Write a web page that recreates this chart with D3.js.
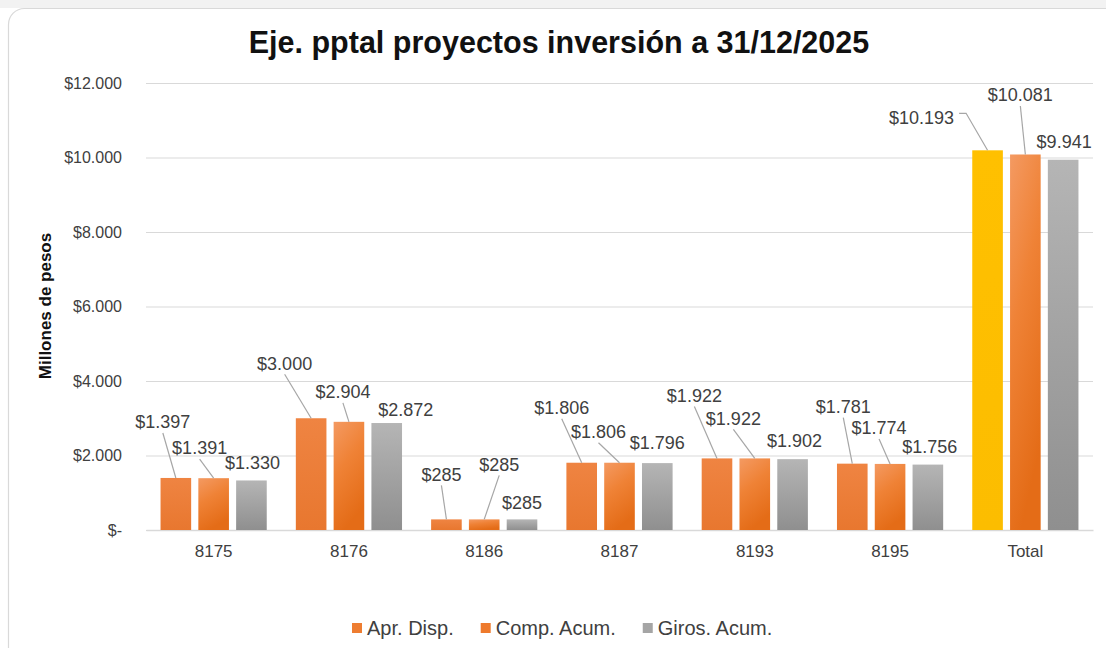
<!DOCTYPE html>
<html>
<head>
<meta charset="utf-8">
<script src="https://cdn.jsdelivr.net/npm/d3@7"></script>
<style>
  html, body { margin: 0; padding: 0; background: #ffffff; }
  svg { display: block; font-family: "Liberation Sans", Arial, sans-serif; }
</style>
</head>
<body>
<svg id="chart" width="1106" height="648"></svg>
<script>
// ---------------- DATA ----------------
const categories = ["8175", "8176", "8186", "8187", "8193", "8195", "Total"];
const seriesNames = ["Apr. Disp.", "Comp. Acum.", "Giros. Acum."];
const aprDisp   = [1397, 3000, 285, 1806, 1922, 1781, 10193];
const compAcum  = [1391, 2904, 285, 1806, 1922, 1774, 10081];
const girosAcum = [1330, 2872, 285, 1796, 1902, 1756, 9941];
const yTickValues = [0, 2000, 4000, 6000, 8000, 10000, 12000];
const titleText = "Eje. pptal proyectos inversión a 31/12/2025";
const yAxisTitle = "Millones de pesos";

// ---------------- LAYOUT (label offsets from bar top centre: dx, dy, leader type) ----------------
const labelOffsetsApr   = [[-13,-56,1],[-26.5,-55,1],[-5,-45,1],[-20,-55,1],[-22.6,-63,1],[-9,-57,1],[-66,-33,2]];
const labelOffsetsComp  = [[-14,-30,1],[-6,-30,1],[15,-55,1],[-21,-31,1],[-21.4,-40,1],[-11,-36,1],[-5,-59.5,1]];
const labelOffsetsGiros = [[1,-17.5,0],[19,-13,0],[0,-17,0],[0,-20,0],[2,-18,0],[2,-17.6,0],[1,-17.7,0]];

const seriesValues = [aprDisp, compAcum, girosAcum];
const seriesOffsets = [labelOffsetsApr, labelOffsetsComp, labelOffsetsGiros];

const fmt = v => v === 0 ? "$-" : "$" + d3.format(",")(v).replace(/,/g, ".");

const svg = d3.select("#chart");
const W = 1106, H = 648;

// background + frame
svg.append("rect").attr("x", 0).attr("y", 0).attr("width", W).attr("height", 8).attr("fill", "#f2f2f2");
svg.append("rect").attr("x", 8.5).attr("y", 8.5).attr("width", 1130).attr("height", 680)
  .attr("rx", 16).attr("fill", "#ffffff").attr("stroke", "#d9d9d9").attr("stroke-width", 1.2);

// gradients
const defs = svg.append("defs");
function grad(id, stops, x2, y2) {
  const g = defs.append("linearGradient").attr("id", id)
    .attr("x1", 0).attr("y1", 0).attr("x2", x2).attr("y2", y2);
  stops.forEach(s => g.append("stop").attr("offset", s[0]).attr("stop-color", s[1]));
}
grad("gApr", [[0, "#ef8442"], [1, "#e8772f"]], 0, 1);
grad("gComp", [[0, "#f49a62"], [0.45, "#ef8236"], [1, "#e46c17"]], 0.35, 1);
grad("gGiros", [[0, "#b5b5b5"], [1, "#8f8f8f"]], 0, 1);
grad("gYel", [[0, "#ffc000"], [1, "#fcbd00"]], 0, 1);

const fills = [
  i => categories[i] === "Total" ? "url(#gYel)" : "url(#gApr)",
  i => "url(#gComp)",
  i => "url(#gGiros)"
];

// scales
const x0 = d3.scaleBand().domain(categories).range([146, 1093]).paddingInner(0.215).paddingOuter(0.1075);
const x1 = d3.scaleBand().domain(seriesNames).range([0, x0.bandwidth()]).paddingInner(0.19);
const y = d3.scaleLinear().domain([0, 12000]).range([530, 83]);

// y axis with gridlines
const yAxis = svg.append("g").attr("transform", "translate(146,0)")
  .call(d3.axisLeft(y).tickValues(yTickValues).tickFormat(fmt)
    .tickSizeInner(-(1093 - 146)).tickSizeOuter(0).tickPadding(24));
yAxis.select(".domain").remove();
yAxis.selectAll(".tick line").attr("stroke", "#d9d9d9").attr("stroke-width", 1.2);
yAxis.selectAll(".tick text").attr("fill", "#404040").attr("font-size", "16px")
  .attr("font-family", "'Liberation Sans', Arial, sans-serif");

// x axis
const xAxis = svg.append("g").attr("transform", "translate(0,530)")
  .call(d3.axisBottom(x0).tickSize(0).tickPadding(14.5));
xAxis.select(".domain").attr("stroke", "#d9d9d9").attr("stroke-width", 1.4);
xAxis.selectAll(".tick text").attr("fill", "#404040").attr("font-size", "17px")
  .attr("font-family", "'Liberation Sans', Arial, sans-serif");

// bars
seriesNames.forEach((s, si) => {
  svg.append("g").selectAll("rect")
    .data(seriesValues[si])
    .join("rect")
    .attr("x", (d, i) => x0(categories[i]) + x1(s))
    .attr("y", d => y(d))
    .attr("width", x1.bandwidth())
    .attr("height", d => y(0) - y(d))
    .attr("fill", (d, i) => fills[si](i));
});

// data labels + leader lines
const labelG = svg.append("g");
const leaderG = svg.append("g");
seriesNames.forEach((s, si) => {
  seriesValues[si].forEach((v, i) => {
    const cx = x0(categories[i]) + x1(s) + x1.bandwidth() / 2;
    const top = y(v);
    const [dx, dy, lt] = seriesOffsets[si][i];
    const lx = cx + dx, ly = top + dy;
    const t = labelG.append("text")
      .attr("x", lx).attr("y", ly).attr("dy", "0.35em")
      .attr("text-anchor", "middle")
      .attr("font-size", "18px").attr("fill", "#404040")
      .text(fmt(v));
    if (lt === 1) {
      leaderG.append("line")
        .attr("x1", lx).attr("y1", ly + 11)
        .attr("x2", cx).attr("y2", top)
        .attr("stroke", "#a6a6a6").attr("stroke-width", 1.2);
    } else if (lt === 2) {
      const w = t.node().getComputedTextLength();
      const sx = lx + w / 2 + 5, sy = ly - 4;
      leaderG.append("path")
        .attr("d", `M${sx},${sy}H${sx + 7}L${cx},${top}`)
        .attr("fill", "none").attr("stroke", "#a6a6a6").attr("stroke-width", 1.2);
    }
  });
});

// title
svg.append("text").attr("x", 559).attr("y", 53)
  .attr("text-anchor", "middle").attr("font-size", "30.5px").attr("font-weight", "bold")
  .attr("fill", "#111111").text(titleText);

// y axis title
svg.append("text")
  .attr("transform", "translate(45,306) rotate(-90)")
  .attr("text-anchor", "middle").attr("dy", "0.35em")
  .attr("font-size", "17px").attr("font-weight", "bold").attr("fill", "#111111")
  .text(yAxisTitle);

// legend
const legendColors = ["#ee7d31", "#ee7a2c", "#a5a5a5"];
const legend = svg.append("g");
let lxPos = 352;
seriesNames.forEach((s, si) => {
  legend.append("rect").attr("x", lxPos).attr("y", 623).attr("width", 10).attr("height", 10)
    .attr("fill", legendColors[si]);
  const tt = legend.append("text").attr("x", lxPos + 15).attr("y", 628).attr("dy", "0.35em")
    .attr("font-size", "20px").attr("fill", "#404040").text(s);
  lxPos += 15 + tt.node().getComputedTextLength() + 27;
});
</script>
</body>
</html>
